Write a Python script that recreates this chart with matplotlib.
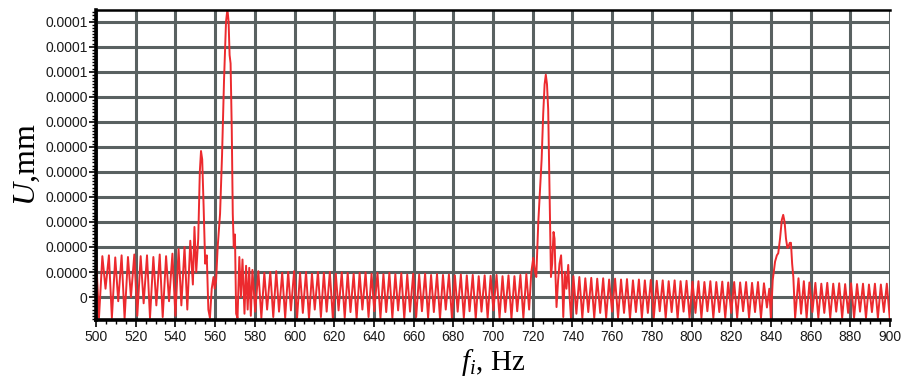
import matplotlib.pyplot as plt
import numpy as np
from matplotlib.ticker import AutoMinorLocator, MultipleLocator

# frequency f in Hz, displacement U in 1e-6 mm
f_pre = [500.0, 501.5, 503.2, 504.8, 506.5, 508.0, 509.7, 511.2, 512.9, 514.4,
         516.1, 517.6, 519.3, 520.8, 522.5, 524.0, 525.7, 527.2, 528.9, 530.4,
         532.1, 533.6, 535.3, 536.8, 538.5, 540.0, 541.6, 543.0, 544.6, 546.0,
         547.5, 548.8]
u_pre = [10.0, -5.0, 9.8, 2.0, 10.0, -5.0, 9.5, -1.0, 10.0, -5.2,
         9.6, 0.0, 10.2, -4.5, 9.8, -1.5, 10.0, -5.0, 9.6, -2.0,
         10.2, -4.8, 9.8, -1.0, 10.4, -4.5, 11.5, -2.0, 12.0, -3.0,
         13.5, 3.0]

f_res1 = [549.6, 550.5, 551.5, 552.3, 552.9, 553.5, 554.2, 555.0, 555.8, 556.6,
          557.4, 558.3, 559.2, 559.8, 560.5, 561.3, 562.5, 563.5, 564.5, 565.5,
          566.2, 566.8, 567.3, 567.8, 568.4, 568.9, 569.4, 570.0, 570.6, 571.3,
          572.2, 573.0, 573.8, 574.8, 575.6, 576.4, 577.2, 578.0]
u_res1 = [16.8, 6.0, 14.0, 30.0, 35.0, 33.0, 22.0, 8.0, 10.0, -3.0,
          -5.0, 2.0, 4.8, 2.0, 4.0, 12.0, 20.0, 34.0, 52.0, 66.0,
          69.0, 66.0, 58.0, 56.0, 40.0, 20.0, 12.0, 15.0, -4.0, -5.0,
          9.6, 0.0, 9.0, -4.0, 7.5, -3.0, 7.0, -4.5]

f_mid = [578.8, 580.2, 581.8, 583.3, 584.8, 586.2, 587.8, 589.3, 590.8, 592.2,
         593.8, 595.3, 596.8, 598.2, 599.8, 601.3, 602.8, 604.2, 605.8, 607.3,
         608.8, 610.2, 611.8, 613.3, 614.8, 616.2, 617.8, 619.3, 620.8, 622.2,
         623.8, 625.3, 626.8, 628.2, 629.8, 631.3, 632.8, 634.2, 635.8, 637.3,
         638.8, 640.2, 641.8, 643.3, 644.8, 646.2, 647.8, 649.3, 650.8, 652.2,
         653.8, 655.3, 656.8, 658.2, 659.8, 661.3, 662.8, 664.2, 665.8, 667.3,
         668.8, 670.2, 671.8, 673.3, 674.8, 676.2, 677.8, 679.3, 680.8, 682.2,
         683.8, 685.3, 686.8, 688.2, 689.8, 691.3, 692.8, 694.2, 695.8, 697.3,
         698.8, 700.2, 701.8, 703.3, 704.8, 706.2, 707.8, 709.3, 710.8, 712.2,
         713.8, 715.3, 716.8, 718.2]
u_mid = [6.5, -3.5, 6.2, -5.0, 5.8, -3.0, 6.0, -4.8, 6.2, -3.5,
         5.8, -5.0, 6.0, -3.2, 6.2, -5.0, 5.8, -3.8, 6.0, -5.2,
         5.6, -3.0, 6.0, -4.8, 5.8, -3.5, 6.0, -5.0, 5.6, -3.2,
         5.9, -5.0, 5.8, -3.6, 5.6, -5.2, 5.8, -3.0, 5.9, -4.8,
         5.6, -3.4, 5.8, -5.0, 5.5, -3.6, 5.8, -5.0, 5.5, -3.2,
         5.7, -5.2, 5.4, -3.5, 5.6, -4.8, 5.4, -3.4, 5.6, -5.0,
         5.3, -3.6, 5.5, -5.2, 5.3, -3.0, 5.4, -5.0, 5.2, -3.5,
         5.4, -5.0, 5.2, -3.4, 5.3, -5.2, 5.0, -3.5, 5.2, -5.0,
         5.1, -3.2, 5.3, -5.0, 5.0, -3.6, 5.2, -5.2, 5.0, -3.4,
         5.3, -5.0, 5.5, -3.0]

f_res2 = [719.3, 720.3, 721.2, 721.8, 722.8, 723.8, 724.5, 725.3, 726.0, 726.6,
          727.2, 727.8, 728.3, 728.7, 729.2, 729.8, 730.5, 731.0, 731.5, 732.0,
          732.8, 733.5, 734.3, 734.9, 735.4, 736.2, 737.0, 737.9, 738.6, 739.3]
u_res2 = [6.0, 9.4, 6.0, 4.8, 17.8, 27.0, 33.0, 44.0, 51.0, 53.3,
          51.0, 45.0, 30.5, 17.8, 4.8, 8.0, 15.6, 14.0, 5.0, -2.4,
          4.0, 8.0, 10.0, 4.0, -4.8, 6.0, 2.0, 7.7, 0.0, -5.2]

f_late = [740.5, 742.0, 743.5, 745.0, 746.5, 748.0, 749.5, 751.0, 752.5, 754.0,
          755.5, 757.0, 758.5, 760.0, 761.5, 763.0, 764.5, 766.0, 767.5, 769.0,
          770.5, 772.0, 773.5, 775.0, 776.5, 778.0, 779.5, 781.0, 782.5, 784.0,
          785.5, 787.0, 788.5, 790.0, 791.5, 793.0, 794.5, 796.0, 797.5, 799.0,
          800.5, 802.0, 803.5, 805.0, 806.5, 808.0, 809.5, 811.0, 812.5, 814.0,
          815.5, 817.0, 818.5, 820.0, 821.5, 823.0, 824.5, 826.0, 827.5, 829.0,
          830.5, 832.0, 833.5, 835.0, 836.5, 838.0]
u_late = [5.0, -4.0, 4.8, -5.0, 4.5, -3.6, 4.6, -5.0, 4.4, -3.8,
          4.5, -5.0, 4.2, -3.5, 4.4, -5.0, 4.2, -3.8, 4.3, -5.2,
          4.0, -3.6, 4.2, -5.0, 4.0, -3.8, 4.1, -5.0, 3.9, -3.4,
          4.0, -5.0, 3.8, -3.6, 4.0, -5.2, 3.8, -3.5, 3.9, -5.0,
          3.7, -3.8, 3.8, -5.0, 3.6, -3.4, 3.8, -5.0, 3.6, -3.6,
          3.7, -5.0, 3.5, -3.8, 3.6, -5.0, 3.5, -3.4, 3.6, -5.0,
          3.4, -3.6, 3.6, -5.0, 3.3, -2.5]

f_res3 = [839.2, 840.0, 840.9, 842.1, 843.0, 843.7, 844.6, 845.5, 846.2, 846.9,
          847.6, 848.3, 848.8, 849.5, 850.1, 850.7, 851.3, 852.2, 853.9, 855.2,
          856.6, 858.0]
u_res3 = [2.0, -5.2, 4.0, 8.5, 10.0, 10.5, 14.0, 18.5, 19.7, 18.0,
          14.0, 11.8, 12.0, 13.0, 13.0, 8.0, 4.8, -5.0, 4.5, -4.0,
          3.8, -5.0]

f_tail = [859.4, 860.9, 862.4, 863.9, 865.4, 866.9, 868.4, 869.9, 871.4, 872.9,
          874.4, 875.9, 877.4, 878.9, 880.4, 881.9, 883.4, 884.9, 886.4, 887.9,
          889.4, 890.9, 892.4, 893.9, 895.4, 896.9, 898.4, 899.9]
u_tail = [3.5, -3.6, 3.4, -5.0, 3.2, -3.8, 3.4, -5.0, 3.2, -3.5,
          3.3, -5.0, 3.1, -3.8, 3.3, -5.0, 3.1, -3.5, 3.2, -5.0,
          3.0, -3.6, 3.2, -5.0, 3.0, -3.6, 3.2, -5.2]

x_ticks = [500, 520, 540, 560, 580, 600, 620, 640, 660, 680, 700,
           720, 740, 760, 780, 800, 820, 840, 860, 880, 900]
y_ticks = [0, 6, 12, 18, 24, 30, 36, 42, 48, 54, 60, 66]
y_tick_labels = ["0", "0.0000", "0.0000", "0.0000", "0.0000", "0.0000",
                 "0.0000", "0.0000", "0.0000", "0.0001", "0.0001", "0.0001"]

plt.rcParams["mathtext.fontset"] = "custom"
plt.rcParams["mathtext.rm"] = "Liberation Serif"
plt.rcParams["mathtext.it"] = "Liberation Serif:italic"

freq = np.concatenate([f_pre, f_res1, f_mid, f_res2, f_late, f_res3, f_tail])
amp = np.concatenate([u_pre, u_res1, u_mid, u_res2, u_late, u_res3, u_tail])

fig = plt.figure(figsize=(9.01, 3.79), dpi=100)
ax = fig.add_axes([96 / 901, 1 - 320 / 379, 794 / 901, 310 / 379])

grid_color = "#596161"
ax.set_axisbelow(True)
ax.grid(True, which="major", color=grid_color, linewidth=2.2)
ax.plot(freq, amp, color="#ec2a2e", linewidth=1.4)

ax.set_xlim(500, 900)
ax.set_ylim(-5.5, 68.8)
ax.set_xticks(x_ticks)
ax.set_yticks(y_ticks)
ax.set_yticklabels(y_tick_labels)
ax.xaxis.set_minor_locator(MultipleLocator(5))
ax.yaxis.set_minor_locator(AutoMinorLocator(8))

for side in ("left", "bottom"):
    ax.spines[side].set_linewidth(2.6)
    ax.spines[side].set_color("black")
ax.spines["top"].set_linewidth(1.8)
ax.spines["right"].set_visible(False)

ax.tick_params(axis="both", which="major", length=5, width=1.2, color="black",
               labelsize=10, labelcolor="#1a1a1a")
ax.tick_params(axis="x", which="major", pad=2)
ax.tick_params(axis="y", which="major", pad=1)
ax.tick_params(axis="both", which="minor", length=3, width=1.0, color="black")
for label in ax.get_xticklabels() + ax.get_yticklabels():
    label.set_fontfamily("Liberation Sans")

ax.set_xlabel(r"$f_i$, Hz", fontsize=21, fontfamily="Liberation Serif", labelpad=2)
ax.set_ylabel(r"$U$,mm", fontsize=23, fontfamily="Liberation Serif", labelpad=2)

fig.savefig("out.png", dpi=100)
